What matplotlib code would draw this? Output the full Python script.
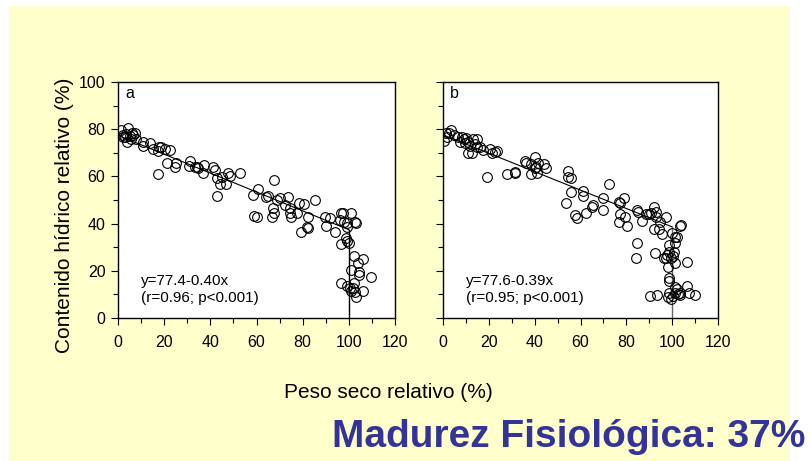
import matplotlib.pyplot as plt
from matplotlib.patches import Rectangle
from matplotlib.ticker import MultipleLocator

plt.rcParams['font.family'] = ['Liberation Sans', 'DejaVu Sans']

# panel a: peso seco relativo (%) vs contenido hidrico relativo (%)
xa = [1.5, 2.2, 3, 3.5, 4.5, 5, 5.5, 6, 6.5, 7.5, 8, 4, 2,
      10.7, 11, 13.9, 15.3, 17.9, 17.5, 18.5, 20.4, 22.5, 21.1, 25.1, 24.7, 17.5,
      31.2, 30.9, 33.4, 34.8, 34.1, 37.3, 37, 41.3, 42, 42.8, 44, 45, 46.8, 47.8, 48.6, 52.9, 42.8,
      58.7, 59, 60.1, 60.8, 64.2, 64.8, 67.6, 68.8, 67.3, 66.6, 67.6, 70.2, 72.4, 73.8, 74.3, 74.9,
      74.6, 78.2, 77.7, 79.2, 80.6, 82.5, 81.8, 82.5, 85.4,
      89.7, 91.9, 90.2, 94.1, 96.5, 97.4, 96.2, 97.7, 99.1, 99.1, 100.9, 102.7, 103.2, 98.8, 99.9,
      96.5, 99.3,
      100.9, 102.3, 103.8, 106.1, 104.6, 104.2, 109.5,
      96.5, 99.1, 100.3, 100.9, 102, 102.3, 103.2, 106.3, 102.7]
ya = [79.5, 77.5, 76.5, 78, 80.5, 77, 76, 78.5, 77.5, 78.5, 76, 74.5, 76.5,
      74.7, 72.9, 74, 71.5, 72.3, 70.9, 72.6, 71.8, 71.2, 65.8, 65.8, 64.1, 60.9,
      66.7, 64.4, 63.8, 63.4, 64.1, 64.8, 61.6, 63.8, 62.7, 59.2, 56.8, 59.6, 56.8, 61.3, 60.2, 61.6, 51.7,
      52.1, 43.4, 42.9, 54.5, 51.1, 51.7, 58.5, 50, 46.5, 42.9, 44.6, 50.7, 47.9, 51.4, 46.5, 42.9,
      44.6, 48.9, 44.6, 36.6, 48.3, 42.9, 38.7, 38, 50,
      42.9, 42.2, 39, 36.6, 44.6, 44.6, 41.5, 40.8, 40.1, 38.4, 44.6, 40.8, 40.1, 33.8, 31.6,
      31.4, 32.8,
      20.3, 26.3, 23.4, 24.9, 19.6, 18.2, 17.2,
      14.7, 13.6, 12.6, 11.6, 12.6, 14.7, 9, 11.6, 10.9]

# panel b
xb = [0.6, 1.4, 2.5, 3.5, 4.6, 1.7,
      6.4, 7.2, 8.2, 9.2, 10.1, 9.7, 10.7, 11.6, 11.1, 12.6, 13.3, 14, 15, 14.7, 16.2, 17.6, 20.5, 21.2,
      22.7, 23.4, 19.1,
      28, 31.4, 31.5,
      35.7, 36.1, 38.6, 38.2, 40, 40.5, 41, 41.5, 40, 43.9, 44.8,
      54.5, 54.5, 55.9, 55.9, 53.8, 57.4, 58.4, 61.3, 61, 62.4, 65.3, 65, 70, 70, 72.3, 76.6, 77.2, 79,
      77.2, 79.5, 76.6, 80.5,
      84.8, 85.3, 84.8, 84.1, 86.7, 88.4, 89.9, 90.6, 92.1, 92.8, 93.1, 94.5, 92.1, 97.1, 94.2, 95.7,
      92.5, 96.4, 97.1, 97.8, 98.6, 98.8, 99.3, 98.3, 98.6, 98.8, 100, 101.2, 101.4, 102.2, 100.8,
      100.3, 101.4, 103.6, 104,
      90.2, 93.5, 98.3, 98.8, 99.3, 100.3, 101.2, 102.2, 102.6, 103.2, 103.6, 106.5, 106.5, 107.5,
      110.1, 101.4]
yb = [75.1, 78.2, 78.5, 79.7, 77.5, 76.8,
      76.8, 74.7, 76.6, 75.7, 76.4, 74.3, 74.7, 72.9, 70.1, 69.8, 75.7, 73.7, 75.7, 72.3, 72.6, 71.2, 71.5, 69.8,
      70.5, 70.9, 59.6,
      60.9, 62, 61.3,
      66.7, 65.8, 65.3, 61, 68.1, 64.1, 61.6, 65.8, 63.4, 65.3, 63.4,
      62.4, 59.9, 59.2, 53.5, 48.9, 43.6, 42.2, 54, 51.7, 44.6, 47.9, 47.2, 50.7, 45.8, 56.8, 49.3, 48.9, 50.7,
      44.1, 42.9, 40.8, 39,
      45.8, 45.1, 31.9, 25.3, 41.2, 44.1, 44.1, 44.4, 47.2, 45.1, 42.9, 40.8, 37.6, 42.9, 37.6, 35.6,
      27.7, 25.3, 25.3, 26.7, 30.9, 28.1, 25.3, 21.5, 16.8, 15.8, 36.2, 31.9, 34.5, 34.5, 28.1,
      26.3, 23.4, 39, 39.4,
      9.3, 9.7, 9, 10.5, 7.9, 9.3, 10.7, 12.1, 10.2, 10.7, 9.7, 13.6, 23.9, 10.5,
      9.7, 13.3]

# regresiones: y = a + b*x hasta x=100
fit_a = (77.4, -0.40)
fit_b = (77.6, -0.39)
xfit = [0, 100]

fig = plt.figure(figsize=(8.11, 4.61), dpi=100)
fig.patch.set_facecolor('white')
fig.patches.append(Rectangle((9 / 811, 0), 781 / 811, 1 - 6 / 461,
                             transform=fig.transFigure, facecolor='#FFFFCC',
                             edgecolor='none', zorder=-10))

ax1 = fig.add_axes([118 / 811, 1 - 318 / 461, 277 / 811, 236 / 461])
ax2 = fig.add_axes([443 / 811, 1 - 318 / 461, 275 / 811, 236 / 461])

panels = [(ax1, xa, ya, fit_a, 'a', 'y=77.4-0.40x', '(r=0.96; p<0.001)', 'black'),
          (ax2, xb, yb, fit_b, 'b', 'y=77.6-0.39x', '(r=0.95; p<0.001)', '#666666')]

for ax, x, y, fit, letra, eq, stats, vcol in panels:
    ax.set_facecolor('white')
    yfit = [fit[0] + fit[1] * v for v in xfit]
    ax.plot(xfit, yfit, color='black', lw=0.8, zorder=2)
    ax.plot([100, 100], [yfit[1], 0], color=vcol, lw=1.0, zorder=2)
    ax.plot(x, y, 'o', ms=7, mfc='none', mec='black', mew=0.8, zorder=3)
    ax.set_xlim(0, 120)
    ax.set_ylim(0, 100)
    ax.xaxis.set_major_locator(MultipleLocator(20))
    ax.xaxis.set_minor_locator(MultipleLocator(10))
    ax.yaxis.set_major_locator(MultipleLocator(20))
    ax.yaxis.set_minor_locator(MultipleLocator(10))
    ax.tick_params(which='major', direction='out', length=5, width=0.8, labelsize=11.5, pad=4)
    ax.tick_params(axis='x', which='major', pad=7)
    ax.tick_params(which='minor', direction='out', length=3.5, width=0.8)
    for s in ax.spines.values():
        s.set_linewidth(1.0)
    ax.text(3, 95, letra, fontsize=11.5, va='center', ha='left')
    ax.text(10, 15.5, eq, fontsize=11, va='center', ha='left')
    ax.text(10, 8.5, stats, fontsize=11, va='center', ha='left')

ax2.tick_params(axis='y', labelleft=False)

fig.text(65 / 811, 1 - 215 / 461, 'Contenido hídrico relativo (%)', rotation=90,
         fontsize=15, ha='center', va='center')
fig.text(388 / 811, 1 - 392 / 461, 'Peso seco relativo (%)', fontsize=15,
         ha='center', va='center')
fig.text(805 / 811, 1 - 437 / 461, 'Madurez Fisiológica: 37%', fontsize=28,
         fontweight='bold', color='#333399', ha='right', va='center')

fig.savefig('out.png', dpi=100)
